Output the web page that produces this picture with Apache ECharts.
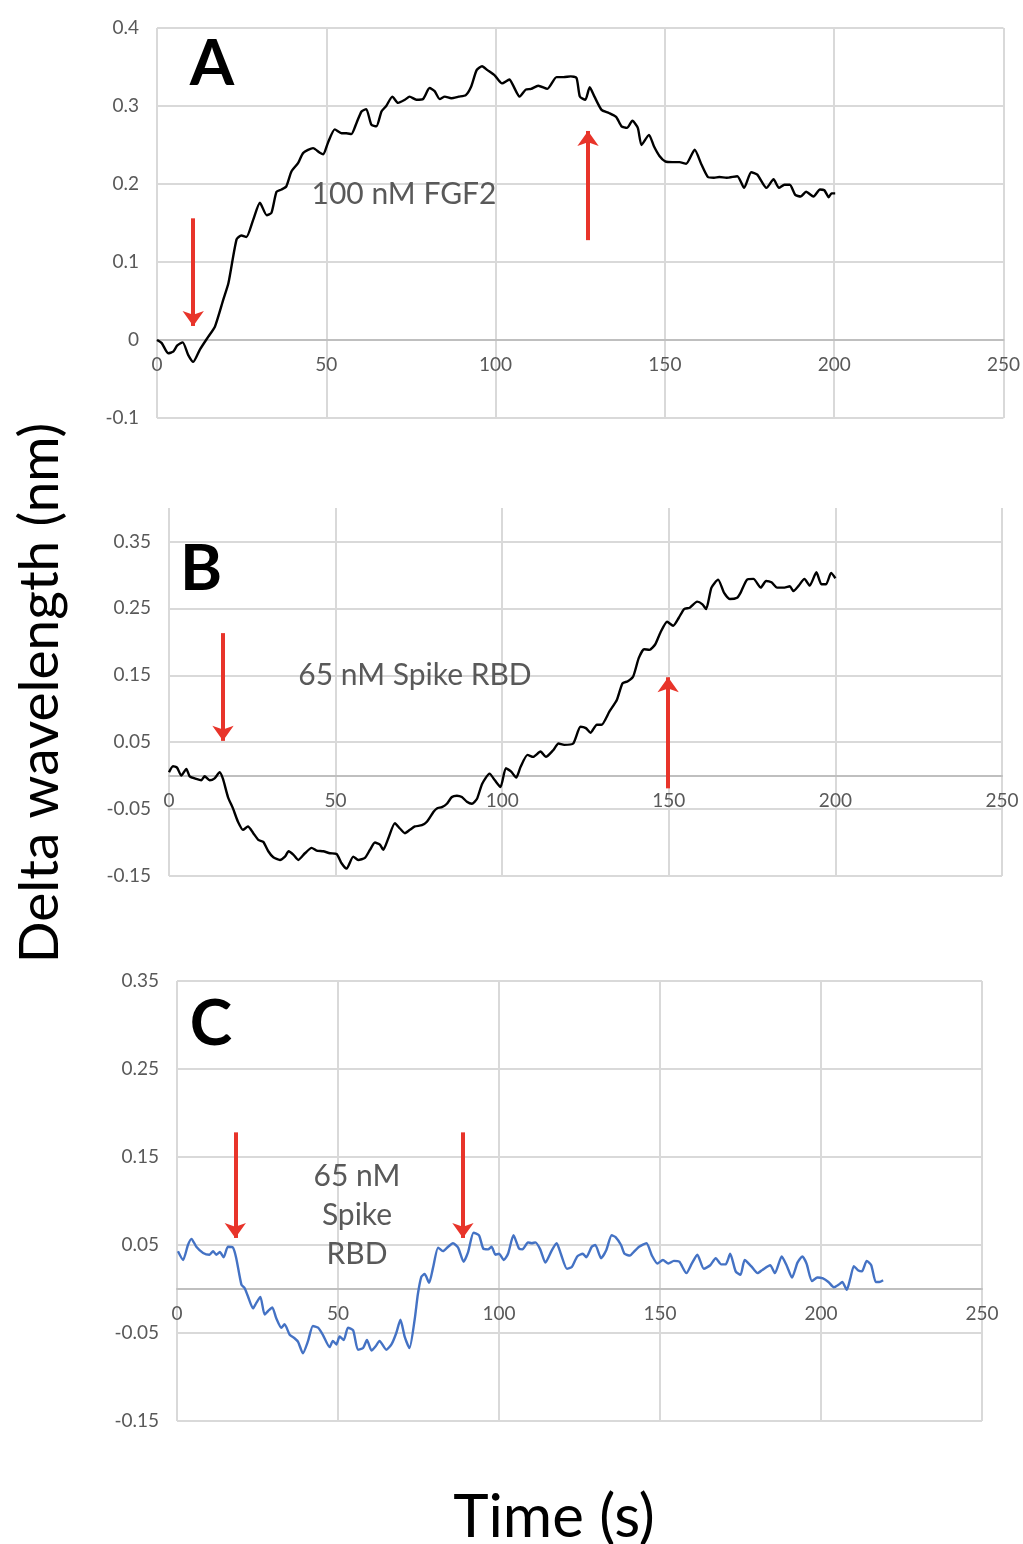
<!DOCTYPE html>
<html>
<head>
<meta charset="utf-8">
<script src="https://cdn.jsdelivr.net/npm/echarts@6/dist/echarts.min.js"></script>
<style>
  html, body { margin: 0; background: #fff; }
  #chart { width: 1023px; height: 1544px; }
</style>
</head>
<body>
<div id="chart"></div>
<script>
// time (s), delta wavelength (nm)
const traceA = [[0,0],[1.4,-0.004],[3.3,-0.017],[4.8,-0.015],[6.0,-0.007],[7.6,-0.003],[9.2,-0.019],[10.7,-0.028],[12.7,-0.012],[15.1,0.004],[17.1,0.017],[19.6,0.052],[21.1,0.073],[23.5,0.129],[24.9,0.134],[26.4,0.132],[28.4,0.154],[30.4,0.176],[32.4,0.160],[33.8,0.163],[35.3,0.19],[36.8,0.193],[38.2,0.197],[39.7,0.216],[41.7,0.227],[43.2,0.24],[46.1,0.246],[48.1,0.24],[49.1,0.238],[50.5,0.253],[52.5,0.27],[54.5,0.265],[55.9,0.265],[57.4,0.264],[58.9,0.278],[60.4,0.293],[61.8,0.296],[63.3,0.276],[64.8,0.274],[66.3,0.293],[67.7,0.3],[69.5,0.312],[71.2,0.304],[73.2,0.308],[74.6,0.312],[76.6,0.308],[78.6,0.309],[80.5,0.323],[82.0,0.319],[83.5,0.309],[85.0,0.312],[86.9,0.31],[89.1,0.312],[91.2,0.314],[92.8,0.325],[94.4,0.346],[96.0,0.351],[97.6,0.346],[99.8,0.339],[101.9,0.329],[104.1,0.334],[105.1,0.327],[107.1,0.312],[108.9,0.321],[110.5,0.322],[112.6,0.326],[115.3,0.322],[118.0,0.337],[120.1,0.337],[122.2,0.338],[123.9,0.336],[124.9,0.312],[126.5,0.308],[127.8,0.324],[129.2,0.312],[131.3,0.295],[133.5,0.291],[135.6,0.286],[137.2,0.274],[138.8,0.272],[140.4,0.281],[142.0,0.272],[143.1,0.25],[145.3,0.263],[146.8,0.248],[148.4,0.236],[150.1,0.229],[152.2,0.228],[154.3,0.228],[156.3,0.226],[158.8,0.244],[160.8,0.225],[162.7,0.209],[164.5,0.208],[166.1,0.209],[168.2,0.208],[171.4,0.21],[173.4,0.195],[175.5,0.215],[177.3,0.212],[180.0,0.195],[182.1,0.206],[183.7,0.195],[185.3,0.199],[186.9,0.199],[188.5,0.186],[190.1,0.184],[191.7,0.19],[193.9,0.184],[195.8,0.193],[197.1,0.192],[198.4,0.183],[199.2,0.188],[200.3,0.188]];

const traceB = [[0,0.005],[1.2,0.014],[2.4,0.012],[3.7,0],[5.2,0.01],[6.2,-0.001],[8.2,-0.005],[9.7,-0.007],[10.7,-0.001],[12.2,-0.007],[13.7,-0.004],[15.2,0.005],[16.2,-0.005],[17.7,-0.032],[19.2,-0.049],[20.7,-0.069],[22.2,-0.081],[23.7,-0.076],[25.3,-0.086],[26.8,-0.096],[28.3,-0.099],[29.8,-0.113],[31.3,-0.122],[33.3,-0.126],[34.8,-0.121],[35.9,-0.113],[37.3,-0.118],[38.8,-0.126],[40.8,-0.116],[42.8,-0.108],[44.3,-0.112],[46.3,-0.113],[48.3,-0.116],[50.3,-0.117],[51.8,-0.131],[53.3,-0.139],[55.3,-0.121],[56.8,-0.126],[58.8,-0.123],[60.3,-0.111],[61.8,-0.1],[63.3,-0.103],[64.3,-0.111],[65.8,-0.094],[67.8,-0.071],[69.3,-0.079],[70.8,-0.086],[72.3,-0.081],[73.8,-0.076],[75.9,-0.074],[77.4,-0.069],[79.4,-0.054],[80.4,-0.049],[81.9,-0.047],[83.4,-0.042],[84.9,-0.032],[86.4,-0.03],[87.9,-0.032],[89.4,-0.039],[90.9,-0.042],[92.4,-0.035],[94.0,-0.012],[96.2,0.003],[97.8,-0.007],[99.5,-0.017],[101.1,0.011],[102.7,0.006],[104.2,-0.003],[105.5,0.013],[107.6,0.031],[109.3,0.028],[111.5,0.036],[113.1,0.028],[115.3,0.038],[116.9,0.048],[118.6,0.046],[121.3,0.048],[123.5,0.073],[125.1,0.071],[126.5,0.064],[128.4,0.076],[129.8,0.076],[132.2,0.096],[134.4,0.113],[136.1,0.138],[137.7,0.141],[139.3,0.148],[141.0,0.176],[142.6,0.189],[144.2,0.188],[145.9,0.196],[147.5,0.214],[149.5,0.23],[151.3,0.224],[153.0,0.236],[154.6,0.249],[156.3,0.251],[158.5,0.26],[160.1,0.256],[161.2,0.249],[162.8,0.281],[164.8,0.293],[166.6,0.273],[168.3,0.264],[170.5,0.266],[171.6,0.274],[173.5,0.293],[175.4,0.294],[177.6,0.281],[179.2,0.291],[180.8,0.289],[182.5,0.281],[184.7,0.281],[186.3,0.283],[187.4,0.276],[189.0,0.284],[190.7,0.294],[192.3,0.284],[194.3,0.304],[195.8,0.286],[197.2,0.286],[198.7,0.303],[200,0.295]];

const traceC = [[0.3,0.043],[1.9,0.033],[3.4,0.05],[4.5,0.057],[6.0,0.048],[8.1,0.041],[10.1,0.039],[11.2,0.043],[12.2,0.039],[13.3,0.042],[14.5,0.036],[15.8,0.048],[17.4,0.047],[18.4,0.035],[20.0,0.005],[21.0,0.001],[22.0,-0.008],[23.6,-0.022],[24.6,-0.016],[25.9,-0.009],[27.2,-0.029],[28.3,-0.025],[29.6,-0.021],[30.8,-0.033],[32.4,-0.044],[33.4,-0.04],[35.0,-0.052],[36.5,-0.056],[37.6,-0.06],[39.1,-0.073],[40.7,-0.059],[42.2,-0.042],[43.8,-0.044],[45.3,-0.052],[47.4,-0.066],[48.4,-0.059],[49.5,-0.063],[50.5,-0.054],[51.8,-0.058],[53.1,-0.044],[54.7,-0.047],[56.2,-0.069],[57.8,-0.067],[59.0,-0.058],[60.4,-0.07],[61.7,-0.065],[62.9,-0.059],[65.0,-0.069],[66.6,-0.063],[68.1,-0.05],[69.4,-0.035],[70.7,-0.054],[72.2,-0.067],[73.8,-0.035],[74.8,-0.006],[75.9,0.014],[76.9,0.017],[78.3,0.007],[79.5,0.024],[81.1,0.047],[82.6,0.043],[84.2,0.048],[85.7,0.052],[87.3,0.047],[89.0,0.031],[90.4,0.042],[92.1,0.064],[93.8,0.061],[95.1,0.046],[96.6,0.045],[97.7,0.048],[98.9,0.039],[100,0.04],[101.5,0.033],[102.8,0.04],[104.5,0.061],[106.2,0.046],[107.3,0.045],[109.0,0.053],[110.2,0.052],[111.3,0.053],[112.8,0.045],[114.4,0.03],[116.4,0.044],[117.9,0.052],[119.2,0.04],[121.1,0.023],[122.6,0.025],[124.3,0.037],[126.0,0.04],[127.1,0.036],[128.8,0.048],[129.9,0.05],[131.7,0.035],[133.3,0.044],[135.0,0.061],[136.2,0.059],[137.9,0.05],[139.0,0.04],[140.7,0.038],[141.8,0.042],[143.5,0.048],[145.8,0.052],[147.5,0.038],[149.2,0.029],[150.9,0.033],[152.6,0.029],[154.3,0.032],[156.0,0.031],[158.2,0.018],[159.9,0.029],[161.6,0.039],[163.6,0.023],[165.6,0.027],[167.3,0.035],[169.0,0.028],[170.4,0.028],[171.8,0.04],[173.5,0.02],[175.0,0.016],[176.3,0.033],[178.3,0.026],[180.3,0.018],[181.9,0.022],[184.2,0.027],[185.7,0.018],[187.8,0.037],[189.3,0.027],[191.0,0.013],[192.7,0.03],[194.2,0.037],[195.5,0.029],[197.2,0.009],[198.9,0.013],[200.6,0.012],[202.3,0.008],[204.0,0.002],[205.5,0.005],[206.6,0.008],[208.0,-0.001],[209.1,0.012],[210.2,0.026],[211.6,0.021],[212.7,0.02],[214.2,0.032],[215.6,0.027],[217.0,0.008],[218.1,0.008],[219.3,0.01]];

// red arrows: [time, from, to]
const arrowsA = [[10.7, 0.156, 0.018], [127.3, 0.128, 0.268]];
const arrowsB = [[16.2, 0.213, 0.052], [149.8, -0.019, 0.147]];
const arrowsC = [[18.1, 0.178, 0.058], [88.8, 0.178, 0.058]];

const yTicksBC = [-0.15, -0.05, 0.05, 0.15, 0.25, 0.35];

const chart = echarts.init(document.getElementById('chart'));

const grey = '#595959';
const gridLine = { show: true, lineStyle: { color: '#d9d9d9', width: 2 } };
const font = 'Lato';

const grids = [
  { left: 157, right: 19, top: 28, height: 390 },
  { left: 169, right: 21, top: 508, height: 368 },
  { left: 177, right: 41, top: 981, height: 440 }
];
// the time axis sits on the zero line, this far up from each grid's bottom
const xOffsets = [-78, -100, -132];

const xAxes = grids.map((g, i) => ({
  type: 'value', gridIndex: i, min: 0, max: 250, interval: 50,
  position: 'bottom', offset: xOffsets[i],
  axisLine: { onZero: false, lineStyle: { color: '#bfbfbf', width: 2 } },
  axisTick: { show: false },
  axisLabel: { color: grey, fontSize: 19, fontFamily: font, margin: 15 },
  splitLine: gridLine
}));

const yLabel = { color: grey, fontSize: 19, fontFamily: font, margin: 18 };
const yAxes = [
  { type: 'value', gridIndex: 0, min: -0.1, max: 0.4, interval: 0.1,
    axisLine: { show: false }, axisTick: { show: false }, axisLabel: yLabel, splitLine: gridLine },
  { type: 'value', gridIndex: 1, min: -0.15, max: 0.4,
    axisLine: { show: false }, axisTick: { show: false, customValues: yTicksBC },
    axisLabel: Object.assign({ customValues: yTicksBC }, yLabel), splitLine: gridLine },
  { type: 'value', gridIndex: 2, min: -0.15, max: 0.35,
    axisLine: { show: false }, axisTick: { show: false, customValues: yTicksBC },
    axisLabel: Object.assign({ customValues: yTicksBC }, yLabel), splitLine: gridLine }
];

function arrowLines(arrows) {
  return {
    silent: true,
    symbol: ['none', 'arrow'],
    symbolSize: [16, 15],
    label: { show: false },
    lineStyle: { color: '#e8342a', width: 4, type: 'solid' },
    emphasis: { disabled: true },
    data: arrows.map(a => [{ coord: [a[0], a[1]] }, { coord: [a[0], a[2]] }])
  };
}

const traces = [traceA, traceB, traceC];
const arrows = [arrowsA, arrowsB, arrowsC];
const colors = ['#000000', '#000000', '#4472c4'];

const series = traces.map((d, i) => ({
  type: 'line', xAxisIndex: i, yAxisIndex: i, data: d,
  showSymbol: false, smooth: 0.2,
  lineStyle: { color: colors[i], width: 2.4 },
  markLine: arrowLines(arrows[i])
}));

function txt(text, x, y, size, color, weight, extra) {
  return Object.assign({
    type: 'text', x: x, y: y, z: 100,
    style: { text: text, fill: color, fontSize: size, fontFamily: font, fontWeight: weight,
             textAlign: 'center', textVerticalAlign: 'middle', lineHeight: size * 1.3 }
  }, extra || {});
}

const option = {
  animation: false,
  grid: grids,
  xAxis: xAxes,
  yAxis: yAxes,
  series: series,
  graphic: [
    txt('A', 212, 64, 64, '#000', 'bold'),
    txt('B', 201, 569, 64, '#000', 'bold'),
    txt('C', 211, 1024, 64, '#000', 'bold'),
    txt('100 nM FGF2', 404, 194, 30, grey, 'normal'),
    txt('65 nM Spike RBD', 415, 675, 30, grey, 'normal'),
    txt('65 nM\nSpike\nRBD', 357, 1215, 30, grey, 'normal'),
    txt('Delta wavelength (nm)', 40, 693, 55, '#000', 'normal', { rotation: Math.PI / 2 }),
    txt('Time (s)', 554, 1518, 60, '#000', 'normal')
  ]
};

chart.setOption(option);
</script>
</body>
</html>
